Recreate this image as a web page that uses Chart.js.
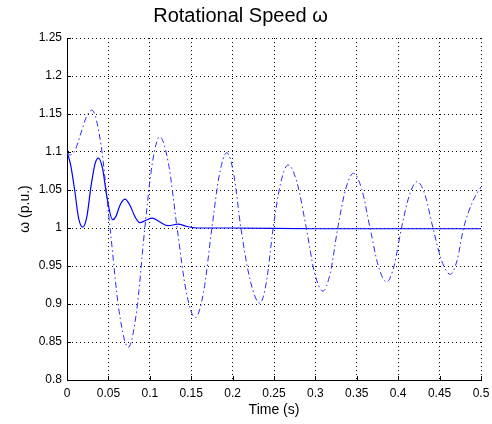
<!DOCTYPE html>
<html>
<head>
<meta charset="utf-8">
<script src="https://cdn.jsdelivr.net/npm/chart.js@4/dist/chart.umd.min.js"></script>
<style>
  html, body { margin: 0; padding: 0; background: #fff; }
  #wrap { width: 492px; height: 424px; }
</style>
</head>
<body>
<div id="wrap"><canvas id="speed-chart" width="492" height="424"></canvas></div>
<script>
// dashed trace (sustained oscillation)
const tDash = [0, 0.004, 0.010, 0.016, 0.023, 0.030, 0.041, 0.052, 0.063, 0.074, 0.084, 0.094,
  0.103, 0.112, 0.1225, 0.133, 0.144, 0.155, 0.165, 0.175, 0.184, 0.193, 0.2015, 0.210,
  0.2215, 0.233, 0.241, 0.249, 0.258, 0.267, 0.278, 0.289, 0.299, 0.309, 0.318, 0.327,
  0.3365, 0.346, 0.356, 0.366, 0.376, 0.386, 0.395, 0.404, 0.4135, 0.423, 0.4325, 0.442,
  0.4525, 0.463, 0.471, 0.479, 0.490, 0.500];
const wDash = [1.100, 1.096, 1.103, 1.122, 1.145, 1.155, 1.110, 1.000, 0.890, 0.843, 0.890, 1.000,
  1.085, 1.120, 1.085, 1.000, 0.916, 0.882, 0.916, 1.000, 1.070, 1.099, 1.070, 1.000,
  0.930, 0.901, 0.930, 1.000, 1.059, 1.083, 1.059, 1.000, 0.941, 0.917, 0.941, 1.000,
  1.051, 1.072, 1.051, 1.000, 0.950, 0.929, 0.950, 1.000, 1.043, 1.061, 1.043, 1.000,
  0.957, 0.939, 0.957, 1.000, 1.035, 1.054];

// solid trace (damped, settles at 1)
const tSolid = [0, 0.004, 0.009, 0.014, 0.019, 0.024, 0.029, 0.034, 0.038, 0.043, 0.048, 0.055,
  0.059, 0.064, 0.070, 0.076, 0.082, 0.088, 0.095, 0.103, 0.112, 0.122, 0.134, 0.145, 0.160,
  0.200, 0.300, 0.400, 0.500];
const wSolid = [1.100, 1.085, 1.052, 1.013, 1.001, 1.015, 1.055, 1.085, 1.092, 1.078, 1.042, 1.011,
  1.015, 1.030, 1.038, 1.030, 1.015, 1.007, 1.010, 1.013, 1.008, 1.003, 1.005, 1.002, 1.000,
  1.000, 0.999, 0.999, 0.999];

const xTicks = [0, 0.05, 0.1, 0.15, 0.2, 0.25, 0.3, 0.35, 0.4, 0.45, 0.5];
const yTicks = [0.8, 0.85, 0.9, 0.95, 1, 1.05, 1.1, 1.15, 1.2, 1.25];

const FONT = '"Liberation Sans", Arial, sans-serif';
const pts = (ts, ws) => ts.map((t, i) => ({ x: t, y: ws[i] }));
const fmt = v => String(+v.toFixed(2));

// MATLAB style inward tick marks on left and bottom axes
const innerTicks = {
  id: 'innerTicks',
  afterDraw(chart) {
    const { ctx, chartArea: a, scales: { x, y } } = chart;
    ctx.save();
    ctx.strokeStyle = '#000';
    ctx.lineWidth = 1;
    ctx.beginPath();
    xTicks.forEach(v => {
      const px = Math.round(x.getPixelForValue(v)) + 0.5;
      ctx.moveTo(px, a.bottom); ctx.lineTo(px, a.bottom - 4);
    });
    yTicks.forEach(v => {
      const py = Math.round(y.getPixelForValue(v)) + 0.5;
      ctx.moveTo(a.left, py); ctx.lineTo(a.left + 4, py);
    });
    ctx.stroke();
    ctx.restore();
  }
};

new Chart(document.getElementById('speed-chart'), {
  type: 'line',
  data: {
    datasets: [
      {
        data: pts(tDash, wDash),
        borderColor: '#2a2aff',
        borderWidth: 1,
        borderDash: [6, 3, 1.5, 3],
        pointRadius: 0,
        cubicInterpolationMode: 'monotone'
      },
      {
        data: pts(tSolid, wSolid),
        borderColor: '#0000ff',
        borderWidth: 1.2,
        pointRadius: 0,
        cubicInterpolationMode: 'monotone'
      }
    ]
  },
  options: {
    responsive: false,
    animation: false,
    layout: { padding: { left: 0, right: 11, top: 0, bottom: 0 } },
    plugins: {
      legend: { display: false },
      tooltip: { enabled: false },
      title: {
        display: true,
        text: 'Rotational Speed ω',
        color: '#000',
        font: { family: FONT, size: 20, weight: 'normal' },
        padding: { top: 4, bottom: 10 }
      }
    },
    scales: {
      x: {
        type: 'linear',
        min: 0,
        max: 0.5,
        afterBuildTicks: s => { s.ticks = xTicks.map(v => ({ value: v })); },
        afterFit: s => { s.height = 44; s.paddingLeft = 0; s.paddingRight = 0; },
        ticks: { color: '#000', font: { family: FONT, size: 12 }, padding: 6, maxRotation: 0, callback: fmt },
        grid: { color: '#000', drawTicks: false },
        border: { color: '#000', width: 1, dash: [1, 3] },
        title: { display: true, text: 'Time (s)', color: '#000', font: { family: FONT, size: 14 }, padding: { top: 0, bottom: 5 } }
      },
      y: {
        min: 0.8,
        max: 1.25,
        afterBuildTicks: s => { s.ticks = yTicks.map(v => ({ value: v })); },
        afterFit: s => { s.width = 67; },
        ticks: { color: '#000', font: { family: FONT, size: 12 }, padding: 5, callback: fmt },
        grid: { color: '#000', drawTicks: false },
        border: { color: '#000', width: 1, dash: [1, 3] },
        title: { display: true, text: 'ω (p.u.)', color: '#000', font: { family: FONT, size: 14 }, padding: { top: 17, bottom: 0 } }
      }
    }
  },
  plugins: [innerTicks]
});
</script>
</body>
</html>
